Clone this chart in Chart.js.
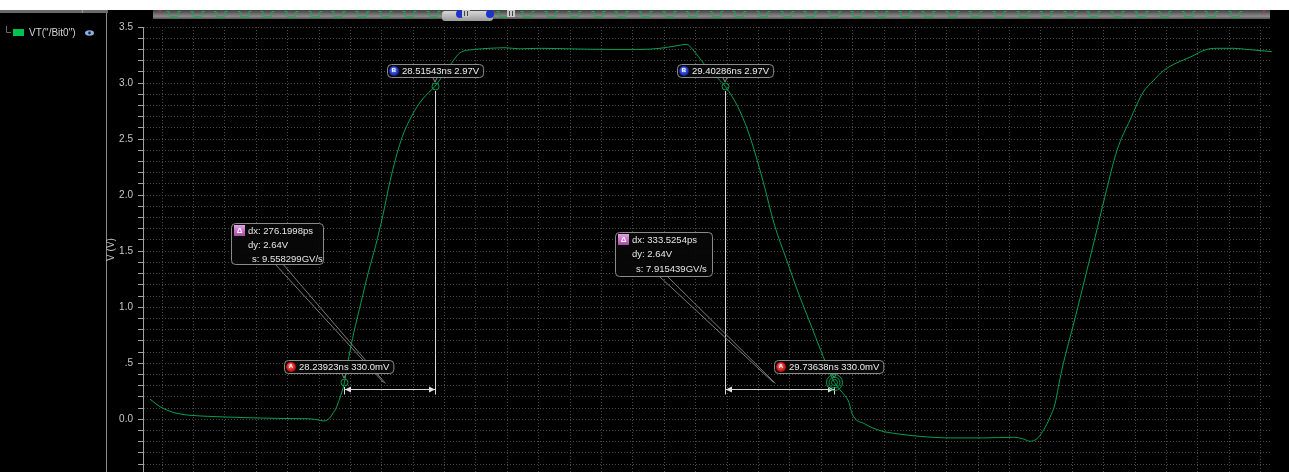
<!DOCTYPE html>
<html>
<head>
<meta charset="utf-8">
<script src="https://cdn.jsdelivr.net/npm/chart.js@4.4.0/dist/chart.umd.min.js"></script>
<style>
  html, body { margin: 0; padding: 0; background: #000; overflow: hidden; }
  #wrap { width: 1289px; height: 472px; position: relative; }
  canvas { display: block; }
</style>
</head>
<body>
<div id="wrap"><canvas id="c" width="1289" height="472"></canvas></div>
<script>
// Transient trace of VT("/Bit0"): time in ns, voltage in V
const seriesName = 'VT("/Bit0")';
const traceTime = [
  27.6452, 27.6757, 27.7063, 27.7368, 27.7674, 27.7979, 27.8438, 27.9049, 27.9660, 28.0271,
  28.0882, 28.1340, 28.1585, 28.1750, 28.1870, 28.1966, 28.2026, 28.2126, 28.2226, 28.2326,
  28.2392, 28.2515, 28.2682, 28.2901, 28.3124, 28.3347, 28.3567, 28.3790, 28.4123, 28.4455,
  28.4788, 28.5154, 28.5454, 28.5720, 28.5923, 28.6382, 28.6840, 28.7298, 28.7756, 28.8368,
  28.9284, 29.0506, 29.1423, 29.2034, 29.2492, 29.2850, 29.3030, 29.3383, 29.3742, 29.4029,
  29.4459, 29.4818, 29.5176, 29.5535, 29.5893, 29.6252, 29.6611, 29.6969, 29.7364, 29.7687,
  29.7805, 29.7905, 29.8293, 29.8750, 29.9310, 29.9980, 30.0904, 30.1922, 30.2839, 30.3134,
  30.3338, 30.3543, 30.3745, 30.3950, 30.4102, 30.4203, 30.4307, 30.4713, 30.5019, 30.5324,
  30.5630, 30.5997, 30.6394, 30.6800, 30.7106, 30.7411, 30.7821, 30.8227, 30.8737, 30.9144,
  30.9550, 30.9959, 31.0366, 31.0723
];
const traceVolt = [
  0.180, 0.113, 0.071, 0.048, 0.036, 0.030, 0.024, 0.018, 0.0125, 0.009,
  0.006, 0.004, -0.005, -0.014, -0.006, 0.020, 0.048, 0.093, 0.167, 0.256,
  0.330, 0.539, 0.777, 1.045, 1.3125, 1.550, 1.820, 2.130, 2.490, 2.710,
  2.860, 2.970, 3.090, 3.200, 3.270, 3.300, 3.310, 3.315, 3.305, 3.310,
  3.305, 3.300, 3.300, 3.310, 3.330, 3.345, 3.300, 3.170, 3.060, 2.970,
  2.760, 2.490, 2.130, 1.730, 1.430, 1.134, 0.866, 0.598, 0.330, 0.210,
  0.152, 0.048, -0.041, -0.100, -0.130, -0.152, -0.166, -0.166, -0.160, -0.175,
  -0.196, -0.175, -0.100, 0.018, 0.1375, 0.286, 0.435, 0.900, 1.260, 1.620,
  1.990, 2.400, 2.670, 2.920, 3.020, 3.110, 3.180, 3.230, 3.300, 3.310,
  3.310, 3.300, 3.290, 3.280
];

// Cursors placed on the trace
const cursorName = ['A', 'B', 'B', 'A'];
const cursorTime = [28.23923, 28.51543, 29.40286, 29.73638];   // ns
const cursorVolt = [0.33, 2.97, 2.97, 0.33];                   // V

// Delta readouts between cursor pairs [A index, B index]
const deltaPairs = [[0, 1], [3, 2]];
const deltaDx = [276.1998, 333.5254];      // ps
const deltaDy = [2.64, 2.64];              // V
const deltaSlope = [9.558299, 7.915439];   // GV/s

// Labelled y ticks
const yTickValues = [0, 0.5, 1, 1.5, 2, 2.5, 3, 3.5];
const yTickLabels = ['0.0', '.5', '1.0', '1.5', '2.0', '2.5', '3.0', '3.5'];

const X_MIN = 27.6238, X_MAX = 31.0732;
const Y_MIN = -0.47, Y_MAX = 3.5;
const GRID_T0 = 29.8878, GRID_DT = 0.0959;

const FONT = '"Liberation Sans", Arial, sans-serif';
const NOTE_FONT = '9.5px ' + FONT;
const TRACE = '#05a04f';
const GRID = '#4a4a4a';

function rrect(ctx, x, y, w, h, r) {
  ctx.beginPath();
  ctx.moveTo(x + r, y);
  ctx.lineTo(x + w - r, y);
  ctx.arcTo(x + w, y, x + w, y + r, r);
  ctx.lineTo(x + w, y + h - r);
  ctx.arcTo(x + w, y + h, x + w - r, y + h, r);
  ctx.lineTo(x + r, y + h);
  ctx.arcTo(x, y + h, x, y + h - r, r);
  ctx.lineTo(x, y + r);
  ctx.arcTo(x, y, x + r, y, r);
  ctx.closePath();
}
function seg(ctx, x1, y1, x2, y2) {
  ctx.beginPath(); ctx.moveTo(x1, y1); ctx.lineTo(x2, y2); ctx.stroke();
}

// Window chrome: header strip, overview band, signal list
const frame = {
  id: 'frame',
  beforeDraw(chart) {
    const ctx = chart.ctx;
    const W = chart.width, H = chart.height;
    ctx.save();
    ctx.fillStyle = '#000'; ctx.fillRect(0, 0, W, H);
    ctx.fillStyle = '#fff'; ctx.fillRect(0, 0, W, 10);

    // signal list header + divider
    ctx.fillStyle = '#6a6a6a'; ctx.fillRect(0, 10, 108, 3);
    ctx.fillStyle = '#9c9c9c'; ctx.fillRect(82, 10, 1, 3);
    ctx.fillStyle = '#8a8a8a'; ctx.fillRect(106, 13, 1, H - 13);

    // signal entry
    ctx.strokeStyle = '#6a6a6a'; ctx.lineWidth = 1;
    ctx.beginPath(); ctx.moveTo(6.5, 26); ctx.lineTo(6.5, 32.5); ctx.lineTo(11, 32.5); ctx.stroke();
    ctx.fillStyle = '#00c050'; ctx.fillRect(13, 29, 11, 7);
    ctx.fillStyle = '#d4d4d4'; ctx.font = '10px ' + FONT;
    ctx.textBaseline = 'middle'; ctx.textAlign = 'left';
    ctx.fillText(seriesName, 29, 33);
    // eye icon
    ctx.fillStyle = '#8fb0e0';
    ctx.beginPath(); ctx.ellipse(89.5, 33, 4.5, 2.8, 0, 0, Math.PI * 2); ctx.fill();
    ctx.fillStyle = '#1a2a50';
    ctx.beginPath(); ctx.arc(89.5, 33, 1.4, 0, Math.PI * 2); ctx.fill();

    // overview band
    const g = ctx.createLinearGradient(0, 10, 0, 19);
    g.addColorStop(0, '#3e3e3e'); g.addColorStop(0.7, '#8a8a8a'); g.addColorStop(1, '#555');
    ctx.fillStyle = g; ctx.fillRect(153, 10, 1117, 9);
    ctx.strokeStyle = '#12b050'; ctx.lineWidth = 1;
    for (let cx = 173; cx < 1242; cx += 23.6) {
      const c = Math.round(cx) + 0.5;
      ctx.beginPath();
      ctx.moveTo(c - 7, 11.5); ctx.lineTo(c - 4.5, 11.5); ctx.lineTo(c - 4, 16.5);
      ctx.lineTo(c + 4, 16.5); ctx.lineTo(c + 4.5, 11.5); ctx.lineTo(c + 7, 11.5);
      ctx.stroke();
    }
    ctx.fillStyle = '#e02020';
    ctx.fillRect(159, 10, 2, 2); ctx.fillRect(1263, 10, 2, 2);
    // cursor tool buttons on the band
    const tb = ctx.createLinearGradient(0, 11, 0, 21);
    tb.addColorStop(0, '#d8d8d8'); tb.addColorStop(1, '#9a9a9a');
    ctx.fillStyle = tb; rrect(ctx, 442, 11, 51, 10, 3); ctx.fill();
    [[460, 14], [490, 14]].forEach(([bx, by]) => {
      ctx.fillStyle = '#1a34c8'; ctx.beginPath(); ctx.arc(bx, by, 4, 0, Math.PI * 2); ctx.fill();
    });
    [[466, 10], [511, 10]].forEach(([bx, by]) => {
      ctx.fillStyle = '#c8c8c8'; ctx.fillRect(bx - 4, by, 8, 7);
      ctx.fillStyle = '#444'; ctx.fillRect(bx - 2, by + 1, 1, 5); ctx.fillRect(bx + 1, by + 1, 1, 5);
    });
    ctx.restore();
  }
};

// Cursors, dx arrows and delta readout boxes
const cursorLayer = {
  id: 'cursorLayer',
  afterDatasetsDraw(chart) {
    const { ctx, scales: { x, y } } = chart;
    const px = cursorTime.map(t => Math.round(x.getPixelForValue(t)));
    const py = cursorVolt.map(v => Math.round(y.getPixelForValue(v)));
    const boxes = [{ x: 231, y: 223, w: 92, h: 41 }, { x: 615, y: 232, w: 97, h: 44 }];
    ctx.save();
    ctx.font = NOTE_FONT;
    ctx.textBaseline = 'middle'; ctx.textAlign = 'left';

    deltaPairs.forEach(([a, b], k) => {
      const ay = Math.max(py[a], py[b]) + 7.5;
      const xl = Math.min(px[a], px[b]), xr = Math.max(px[a], px[b]);
      ctx.strokeStyle = '#d8d8d8'; ctx.lineWidth = 1;
      seg(ctx, px[b] + 0.5, py[b] + 5, px[b] + 0.5, ay + 5);
      seg(ctx, px[a] + 0.5, py[a] + 5, px[a] + 0.5, ay + 5);
      seg(ctx, xl + 1, ay, xr, ay);
      ctx.fillStyle = '#e0e0e0';
      ctx.beginPath(); ctx.moveTo(xl + 1, ay); ctx.lineTo(xl + 7, ay - 3); ctx.lineTo(xl + 7, ay + 3); ctx.closePath(); ctx.fill();
      ctx.beginPath(); ctx.moveTo(xr, ay); ctx.lineTo(xr - 6, ay - 3); ctx.lineTo(xr - 6, ay + 3); ctx.closePath(); ctx.fill();

      // leader lines from readout box to the dx arrow
      const bx = boxes[k];
      const mid = (xl + xr) / 2;
      ctx.strokeStyle = '#7a7a7a';
      seg(ctx, bx.x + 44, bx.y + bx.h, mid - 6, ay - 7);
      seg(ctx, bx.x + 51, bx.y + bx.h - 1, mid - 4, ay - 6);

      // readout box
      ctx.fillStyle = 'rgba(8,8,8,0.92)'; rrect(ctx, bx.x + 0.5, bx.y + 0.5, bx.w, bx.h, 4); ctx.fill();
      ctx.strokeStyle = '#8a8a8a'; ctx.stroke();
      const ig = ctx.createLinearGradient(0, bx.y + 2, 0, bx.y + 13);
      ig.addColorStop(0, '#e6a0e6'); ig.addColorStop(1, '#a848a8');
      ctx.fillStyle = ig; ctx.fillRect(bx.x + 3, bx.y + 2, 11, 11);
      ctx.fillStyle = '#fff'; ctx.font = 'bold 8px ' + FONT; ctx.textAlign = 'center';
      ctx.fillText('\u0394', bx.x + 8.5, bx.y + 8);
      ctx.font = NOTE_FONT; ctx.textAlign = 'left'; ctx.fillStyle = '#e6e6e6';
      const lh = bx.h > 42 ? 14.5 : 14;
      ctx.fillText('dx: ' + deltaDx[k].toFixed(4) + 'ps', bx.x + 17, bx.y + 8);
      ctx.fillText('dy: ' + deltaDy[k].toFixed(2) + 'V', bx.x + 17, bx.y + 8 + lh);
      ctx.fillText('s: ' + deltaSlope[k].toFixed(6) + 'GV/s', bx.x + 21, bx.y + 8 + 2 * lh);
    });

    // cursor markers and their value labels
    cursorName.forEach((name, i) => {
      const mx = px[i], my = py[i];
      const v = cursorVolt[i];
      const txt = cursorTime[i].toFixed(5) + 'ns ' + (v < 1 ? (v * 1000).toFixed(1) + 'mV' : v.toFixed(2) + 'V');
      ctx.font = NOTE_FONT;
      const tw = ctx.measureText(txt).width;
      const w = tw + 19, h = 13;
      const lx = Math.round(mx - (name === 'A' ? 60 : 48));
      const ly = my - 22;
      ctx.strokeStyle = '#8a8a8a';
      seg(ctx, mx - 2.5, ly + h, mx, my - 4);
      seg(ctx, mx + 2.5, ly + h, mx, my - 4);
      ctx.fillStyle = 'rgba(10,10,10,0.92)'; rrect(ctx, lx + 0.5, ly + 0.5, w, h, 4); ctx.fill();
      ctx.strokeStyle = '#8c8c8c'; ctx.stroke();
      const cg = ctx.createRadialGradient(lx + 6, ly + 5, 0.5, lx + 7, ly + 7, 5);
      if (name === 'A') { cg.addColorStop(0, '#ff8080'); cg.addColorStop(1, '#c00000'); }
      else { cg.addColorStop(0, '#7090ff'); cg.addColorStop(1, '#0a1aa8'); }
      ctx.fillStyle = cg; ctx.beginPath(); ctx.arc(lx + 7, ly + 7, 5, 0, Math.PI * 2); ctx.fill();
      ctx.fillStyle = '#fff'; ctx.font = 'bold 6px ' + FONT; ctx.textAlign = 'center';
      ctx.fillText(name, lx + 7, ly + 6.5);
      ctx.font = NOTE_FONT; ctx.textAlign = 'left'; ctx.fillStyle = '#ececec';
      ctx.fillText(txt, lx + 15, ly + 7);

      ctx.strokeStyle = TRACE; ctx.lineWidth = 1;
      const rings = (i === 3) ? [3, 5.5, 8] : [3.5];
      rings.forEach(r => { ctx.beginPath(); ctx.arc(mx + 0.5, my + 0.5, r, 0, Math.PI * 2); ctx.stroke(); });
    });
    ctx.restore();
  }
};

new Chart(document.getElementById('c'), {
  type: 'line',
  data: {
    datasets: [{
      label: seriesName,
      data: traceTime.map((t, i) => ({ x: t, y: traceVolt[i] })),
      borderColor: TRACE,
      borderWidth: 1,
      pointRadius: 0,
      cubicInterpolationMode: 'monotone',
      fill: false
    }]
  },
  options: {
    responsive: false,
    animation: false,
    devicePixelRatio: 1,
    layout: { padding: { left: 100, right: 17, top: 27, bottom: 0 } },
    plugins: { legend: { display: false }, tooltip: { enabled: false } },
    font: { family: FONT },
    scales: {
      x: {
        type: 'linear', min: X_MIN, max: X_MAX,
        afterBuildTicks(s) {
          const t = [];
          const n0 = Math.ceil((X_MIN - GRID_T0) / GRID_DT);
          for (let n = n0; GRID_T0 + n * GRID_DT <= X_MAX; n++) t.push({ value: GRID_T0 + n * GRID_DT });
          s.ticks = t;
        },
        afterFit(s) { s.height = 0; s.paddingLeft = 0; s.paddingRight = 0; },
        ticks: { display: false },
        grid: { color: GRID, drawTicks: false },
        border: { display: false, dash: [1, 2] }
      },
      y: {
        type: 'linear', min: Y_MIN, max: Y_MAX,
        afterBuildTicks(s) {
          const t = [];
          for (let i = -4; i <= 35; i++) t.push({ value: i / 10 });
          s.ticks = t;
        },
        afterFit(s) { s.width = 43; s.paddingTop = 0; s.paddingBottom = 0; },
        ticks: {
          color: '#c8c8c8', padding: 5, autoSkip: false,
          font: { family: FONT, size: 10 },
          callback(v) {
            const i = yTickValues.findIndex(t => Math.abs(t - v) < 1e-6);
            return i >= 0 ? yTickLabels[i] : '';
          }
        },
        grid: { color: GRID, tickColor: '#a0a0a0', tickLength: 5, tickBorderDash: [] },
        border: { display: true, color: '#a0a0a0', width: 1, dash: [1, 2] },
        title: { display: true, text: 'V (V)', color: '#c0c0c0', font: { family: FONT, size: 10 }, padding: { top: 5, bottom: 0 } }
      }
    }
  },
  plugins: [frame, cursorLayer]
});
</script>
</body>
</html>
